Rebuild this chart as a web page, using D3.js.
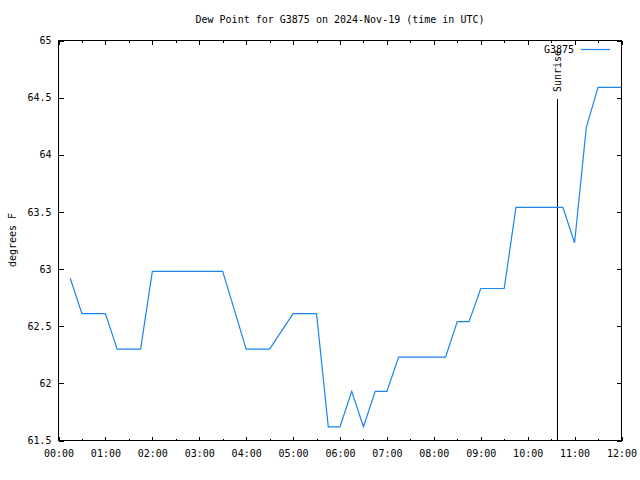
<!DOCTYPE html>
<html>
<head>
<meta charset="utf-8">
<script src="https://cdn.jsdelivr.net/npm/d3@7"></script>
<style>
  html, body { margin: 0; padding: 0; background: #fff; }
  svg { display: block; }
  text { font-family: "DejaVu Sans Mono", "Liberation Mono", monospace; font-size: 10px; fill: #000; }
</style>
</head>
<body>
<svg id="chart" width="640" height="480"></svg>
<script>
// ---- data ----
const times = ["00:15","00:30","01:00","01:15","01:45","02:00","03:30","04:00","04:30","05:00",
               "05:30","05:45","06:00","06:15","06:30","06:45","07:00","07:15","08:15","08:30",
               "08:45","09:00","09:30","09:45","10:45","11:00","11:15","11:30","12:00"];
const dewPoint = [62.92,62.61,62.61,62.30,62.30,62.98,62.98,62.30,62.30,62.61,
                  62.61,61.62,61.62,61.93,61.62,61.93,61.93,62.23,62.23,62.54,
                  62.54,62.83,62.83,63.54,63.54,63.23,64.24,64.59,64.59];
const xTickLabels = ["00:00","01:00","02:00","03:00","04:00","05:00","06:00","07:00","08:00","09:00","10:00","11:00","12:00"];
const xMinorLabels = ["00:30","01:30","02:30","03:30","04:30","05:30","06:30","07:30","08:30","09:30","10:30","11:30"];
const yTicks = [61.5, 62, 62.5, 63, 63.5, 64, 64.5, 65];
const sunriseTime = ["10:38"];
const seriesName = "G3875";
const titleText = "Dew Point for G3875 on 2024-Nov-19 (time in UTC)";
const yLabel = "degrees F";

// ---- helpers ----
const toH = s => { const [h, m] = s.split(":").map(Number); return h + m / 60; };

const svg = d3.select("#chart");
const L = 58, R = 621, T = 40, B = 440;
const x = d3.scaleLinear().domain([0, 12]).range([L, R]);
const y = d3.scaleLinear().domain([61.5, 65]).range([B, T]);

const g = svg.append("g").attr("shape-rendering", "crispEdges");

// frame
g.append("rect").attr("x", L + 0.5).attr("y", T + 0.5)
  .attr("width", R - L).attr("height", B - T)
  .attr("fill", "none").attr("stroke", "#000");

const major = xTickLabels.map(toH);
const minor = xMinorLabels.map(toH);

function styleAxis(sel) {
  sel.select(".domain").remove();
  sel.selectAll("line").attr("stroke", "#000");
  sel.selectAll("text").attr("font-family", "DejaVu Sans Mono, monospace").attr("font-size", 10);
}

// bottom axis with labels
g.append("g").attr("transform", `translate(0.5,${B + 0.5})`)
  .call(d3.axisBottom(x).tickValues(major).tickSize(-4).tickPadding(9)
    .tickFormat((d, i) => xTickLabels[i]))
  .call(styleAxis);
g.append("g").attr("transform", `translate(0.5,${B + 0.5})`)
  .call(d3.axisBottom(x).tickValues(minor).tickSize(-2).tickFormat(""))
  .call(styleAxis);
// top mirror ticks
g.append("g").attr("transform", `translate(0.5,${T + 0.5})`)
  .call(d3.axisTop(x).tickValues(major).tickSize(-4).tickFormat(""))
  .call(styleAxis);
g.append("g").attr("transform", `translate(0.5,${T + 0.5})`)
  .call(d3.axisTop(x).tickValues(minor).tickSize(-2).tickFormat(""))
  .call(styleAxis);
// left axis
g.append("g").attr("transform", `translate(${L + 0.5},0.5)`)
  .call(d3.axisLeft(y).tickValues(yTicks).tickSize(-5).tickPadding(7)
    .tickFormat(d3.format("~g")))
  .call(styleAxis);
// right mirror ticks
g.append("g").attr("transform", `translate(${R + 0.5},0.5)`)
  .call(d3.axisRight(y).tickValues(yTicks).tickSize(-5).tickFormat(""))
  .call(styleAxis);

// sunrise line
const sx = x(toH(sunriseTime[0]));
g.append("line").attr("x1", Math.round(sx) + 0.5).attr("x2", Math.round(sx) + 0.5)
  .attr("y1", B).attr("y2", 99).attr("stroke", "#000");
svg.append("text")
  .attr("transform", `translate(${Math.round(sx) + 0.5},92) rotate(-90)`)
  .attr("text-anchor", "start").attr("dominant-baseline", "central")
  .text("Sunrise");

// data line
const pts = times.map((t, i) => [toH(t), dewPoint[i]]);
svg.append("path").datum(pts)
  .attr("fill", "none").attr("stroke", "#1a84f0").attr("stroke-width", 1.2)
  .attr("d", d3.line().x(d => x(d[0]) + 0.5).y(d => y(d[1]) + 0.5));

// legend
svg.append("text").attr("x", 574).attr("y", 49)
  .attr("text-anchor", "end").attr("dominant-baseline", "central").text(seriesName);
svg.append("line").attr("x1", 581).attr("x2", 610).attr("y1", 49.5).attr("y2", 49.5)
  .attr("stroke", "#1a84f0").attr("stroke-width", 1.2);

// title
svg.append("text").attr("x", 340).attr("y", 19)
  .attr("text-anchor", "middle").attr("dominant-baseline", "central").text(titleText);

// y label
svg.append("text").attr("transform", `translate(12,${(T + B) / 2}) rotate(-90)`)
  .attr("text-anchor", "middle").attr("dominant-baseline", "central").text(yLabel);
</script>
</body>
</html>
